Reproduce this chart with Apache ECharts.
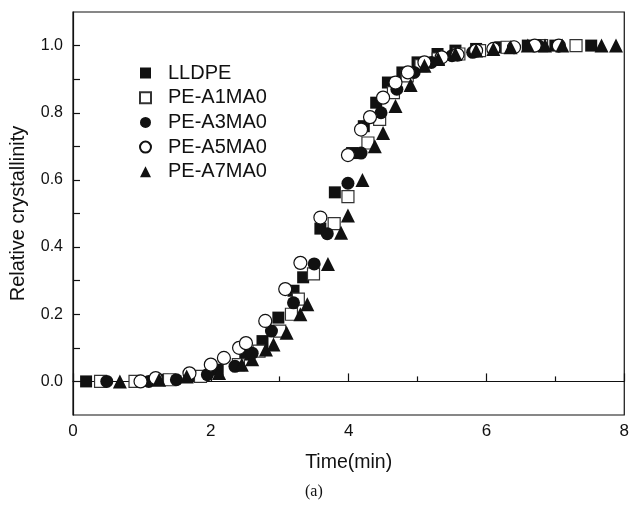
<!DOCTYPE html>
<html>
<head>
<meta charset="utf-8">
<script src="https://cdn.jsdelivr.net/npm/echarts@6/dist/echarts.min.js"></script>
<style>html,body{margin:0;padding:0;background:#fff;}#c{width:632px;height:508px;}</style>
</head>
<body>
<div id="c"></div>
<script>
var seriesNames = ['LLDPE', 'PE-A1MA0', 'PE-A3MA0', 'PE-A5MA0', 'PE-A7MA0'];

var lldpeT = [0.19, 0.9, 1.3, 1.7, 2.1, 2.5, 2.75, 2.98, 3.2, 3.34, 3.59, 3.8, 4.05, 4.22, 4.4, 4.57, 4.78, 5.0, 5.29, 5.55, 5.85, 6.2, 6.6, 7.0, 7.52];
var lldpeX = [0.0, 0.0, 0.005, 0.015, 0.035, 0.08, 0.12, 0.19, 0.27, 0.31, 0.455, 0.563, 0.68, 0.76, 0.83, 0.89, 0.92, 0.95, 0.975, 0.985, 0.99, 0.995, 1.0, 1.0, 1.0];

var a1T = [0.4, 0.9, 1.4, 1.85, 2.4, 2.7, 3.0, 3.17, 3.27, 3.49, 3.79, 3.99, 4.28, 4.45, 4.65, 4.85, 5.05, 5.3, 5.6, 5.9, 6.3, 6.8, 7.3];
var a1X = [0.0, 0.0, 0.005, 0.015, 0.05, 0.09, 0.15, 0.2, 0.245, 0.32, 0.47, 0.55, 0.71, 0.78, 0.86, 0.91, 0.94, 0.96, 0.975, 0.985, 0.995, 1.0, 1.0];

var a3T = [0.49, 1.1, 1.5, 1.95, 2.35, 2.6, 2.88, 3.2, 3.5, 3.69, 3.99, 4.18, 4.47, 4.7, 4.95, 5.2, 5.5, 5.8, 6.1, 6.4, 6.75, 7.05];
var a3X = [0.0, 0.0, 0.005, 0.02, 0.045, 0.084, 0.15, 0.234, 0.35, 0.44, 0.59, 0.68, 0.80, 0.87, 0.92, 0.95, 0.97, 0.98, 0.99, 0.995, 1.0, 1.0];

var a5T = [0.98, 1.2, 1.69, 2.0, 2.19, 2.41, 2.51, 2.79, 3.08, 3.3, 3.59, 3.99, 4.18, 4.31, 4.5, 4.68, 4.86, 5.1, 5.35, 5.58, 5.85, 6.1, 6.4, 6.7, 7.05];
var a5X = [0.0, 0.01, 0.024, 0.05, 0.07, 0.1, 0.114, 0.18, 0.275, 0.353, 0.488, 0.674, 0.75, 0.787, 0.845, 0.89, 0.92, 0.95, 0.965, 0.973, 0.985, 0.99, 0.995, 1.0, 1.0];

var a7T = [0.68, 1.25, 1.65, 2.12, 2.45, 2.6, 2.8, 2.91, 3.1, 3.3, 3.4, 3.7, 3.89, 3.99, 4.2, 4.38, 4.5, 4.68, 4.9, 5.1, 5.3, 5.55, 5.85, 6.1, 6.35, 6.6, 6.85, 7.1, 7.67, 7.88];
var a7X = [0.0, 0.005, 0.015, 0.025, 0.05, 0.066, 0.095, 0.11, 0.145, 0.2, 0.23, 0.35, 0.443, 0.494, 0.60, 0.70, 0.74, 0.82, 0.883, 0.94, 0.96, 0.975, 0.985, 0.99, 0.995, 1.0, 1.0, 1.0, 1.0, 1.0];

var xTicks = [0, 2, 4, 6, 8];
var yTickLabels = ['0.0', '0.2', '0.4', '0.6', '0.8', '1.0'];

function pairs(t, x) { return t.map(function (v, i) { return [v, x[i]]; }); }

var dark = '#111';
var styles = [
  { symbol: 'rect', size: 12, item: { color: dark, opacity: 1 } },
  { symbol: 'rect', size: 12, item: { color: '#fff', borderColor: '#333', borderWidth: 1.2, opacity: 1 } },
  { symbol: 'circle', size: 13, item: { color: dark, opacity: 1 } },
  { symbol: 'circle', size: 13, item: { color: '#fff', borderColor: '#111', borderWidth: 1.2, opacity: 1 } },
  { symbol: 'triangle', size: 14, item: { color: dark, opacity: 1 } }
];
var dataSets = [pairs(lldpeT, lldpeX), pairs(a1T, a1X), pairs(a3T, a3X), pairs(a5T, a5X), pairs(a7T, a7X)];

var series = seriesNames.map(function (n, i) {
  return {
    name: n, type: 'scatter', symbol: styles[i].symbol, symbolSize: styles[i].size,
    itemStyle: styles[i].item, data: dataSets[i], z: 2 + i
  };
});

var font = 'Liberation Sans, Arial, sans-serif';
var chart = echarts.init(document.getElementById('c'), null, { renderer: 'canvas' });
chart.setOption({
  animation: false,
  backgroundColor: '#fff',
  textStyle: { fontFamily: font },
  grid: { left: 73, right: 4, top: 12, bottom: 93, show: true, borderColor: '#111', borderWidth: 1.2, containLabel: false },
  legend: {
    orient: 'vertical', left: 134, top: 58, itemWidth: 11, itemHeight: 11, itemGap: 4.7,
    symbolKeepAspect: true,
    textStyle: { fontSize: 20, color: '#111', fontFamily: font, padding: [0, 0, 0, 12] },
    data: seriesNames
  },
  xAxis: {
    type: 'value', min: 0, max: 8, interval: 2,
    name: 'Time(min)', nameLocation: 'middle', nameGap: 38,
    nameTextStyle: { fontSize: 19.5, color: '#111' },
    axisLine: { show: true, lineStyle: { color: '#111', width: 1.2 } },
    axisTick: { show: true, inside: true, length: 8, lineStyle: { color: '#111', width: 1.2 } },
    minorTick: { show: true, splitNumber: 2, length: 5, lineStyle: { color: '#111', width: 1.2 } },
    splitLine: { show: false },
    axisLabel: { fontSize: 17, color: '#111', margin: 8, formatter: function (v) { return xTicks.indexOf(v) >= 0 ? String(v) : ''; } }
  },
  yAxis: {
    type: 'value', min: -0.1, max: 1.1, interval: 0.1,
    name: 'Relative crystallinity', nameLocation: 'middle', nameGap: 45, nameRotate: 90,
    nameTextStyle: { fontSize: 20, color: '#111' },
    axisLine: { show: true, lineStyle: { color: '#111', width: 1.2 } },
    axisTick: { show: true, inside: true, length: 7, lineStyle: { color: '#111', width: 1.2 } },
    splitLine: { show: false },
    axisLabel: {
      fontSize: 16, color: '#111', margin: 10, showMinLabel: false, showMaxLabel: false,
      formatter: function (v) {
        var k = Math.round(v * 10);
        if (k >= 0 && k <= 10 && k % 2 === 0) return yTickLabels[k / 2];
        return '';
      }
    }
  },
  graphic: [{
    type: 'text', left: 305, top: 484,
    style: { text: '(a)', fontSize: 16, fontFamily: 'Liberation Serif, Times New Roman, serif', fill: '#111' }
  }],
  series: series
});
</script>
</body>
</html>
